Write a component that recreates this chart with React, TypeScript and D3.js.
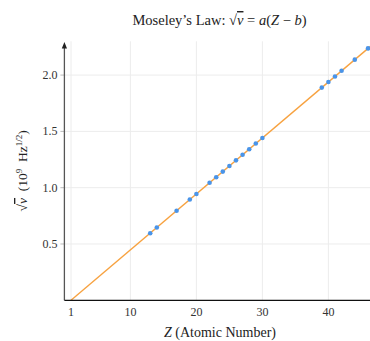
import { useRef, useEffect } from "react";
import * as d3 from "d3";

// Measured K-alpha points (Z, sqrt(nu) in 1e9 Hz^1/2)
const atomicNumbers = [13, 14, 17, 19, 20, 22, 23, 24, 25, 26, 27, 28, 29, 30, 39, 40, 41, 42, 44, 46];
const sqrtFreq = [0.596, 0.646, 0.795, 0.895, 0.944, 1.044, 1.093, 1.143, 1.193, 1.243, 1.292, 1.342, 1.392, 1.441, 1.889, 1.938, 1.988, 2.038, 2.137, 2.237];

// Fit line endpoints
const fitZ = [1, 47];
const fitValues = [0, 2.286];

const xTicks = [1, 10, 20, 30, 40];
const yTicks = [0.5, 1.0, 1.5, 2.0];

const WIDTH = 370;
const HEIGHT = 341;
const FONT = "'Liberation Serif', 'DejaVu Serif', serif";

export default function App() {
  const svgRef = useRef<SVGSVGElement>(null);

  useEffect(() => {
    if (!svgRef.current) return;
    const svg = d3.select(svgRef.current);
    svg.selectAll("*").remove();

    const x = d3.scaleLinear().domain([0, 47]).range([64.4, 374.6]);
    const y = d3.scaleLinear().domain([0, 2.3]).range([300.3, 41.3]);

    const defs = svg.append("defs");
    defs
      .append("clipPath")
      .attr("id", "plot-clip")
      .append("rect")
      .attr("x", x(0))
      .attr("y", y(2.3))
      .attr("width", x(47) - x(0))
      .attr("height", y(0) - y(2.3));
    defs
      .append("marker")
      .attr("id", "arrow")
      .attr("viewBox", "0 0 10 10")
      .attr("refX", 5)
      .attr("refY", 5)
      .attr("markerWidth", 5)
      .attr("markerHeight", 5)
      .attr("orient", "auto")
      .append("path")
      .attr("d", "M0,1 L10,5 L0,9 Z")
      .attr("fill", "#222");

    // Grid
    svg
      .append("g")
      .selectAll("line")
      .data(xTicks)
      .enter()
      .append("line")
      .attr("x1", (d) => x(d))
      .attr("x2", (d) => x(d))
      .attr("y1", y(2.3))
      .attr("y2", y(0))
      .attr("stroke", "#ececec")
      .attr("stroke-width", 1);
    svg
      .append("g")
      .selectAll("line")
      .data(yTicks)
      .enter()
      .append("line")
      .attr("x1", x(0))
      .attr("x2", WIDTH)
      .attr("y1", (d) => y(d))
      .attr("y2", (d) => y(d))
      .attr("stroke", "#ececec")
      .attr("stroke-width", 1);

    // Y ticks
    const yt = svg.append("g");
    yt.selectAll("line")
      .data(yTicks)
      .enter()
      .append("line")
      .attr("x1", x(0) - 4)
      .attr("x2", x(0))
      .attr("y1", (d) => y(d))
      .attr("y2", (d) => y(d))
      .attr("stroke", "#bbb");
    yt.selectAll("text")
      .data(yTicks)
      .enter()
      .append("text")
      .attr("x", x(0) - 7)
      .attr("y", (d) => y(d) + 4)
      .attr("text-anchor", "end")
      .attr("font-family", FONT)
      .attr("font-size", 12)
      .attr("fill", "#333")
      .text((d) => d3.format(".1f")(d));

    // X tick labels
    svg
      .append("g")
      .selectAll("text")
      .data(xTicks)
      .enter()
      .append("text")
      .attr("x", (d) => x(d))
      .attr("y", 316)
      .attr("text-anchor", "middle")
      .attr("font-family", FONT)
      .attr("font-size", 12)
      .attr("fill", "#333")
      .text((d) => String(d));

    // Fit line
    const fit = fitZ.map((z, i) => ({ z, v: fitValues[i] }));
    const line = d3
      .line<{ z: number; v: number }>()
      .x((d) => x(d.z))
      .y((d) => y(d.v));
    svg
      .append("path")
      .datum(fit)
      .attr("clip-path", "url(#plot-clip)")
      .attr("fill", "none")
      .attr("stroke", "#f7a240")
      .attr("stroke-width", 1.4)
      .attr("d", line);

    // Points
    svg
      .append("g")
      .selectAll("circle")
      .data(atomicNumbers)
      .enter()
      .append("circle")
      .attr("cx", (d) => x(d))
      .attr("cy", (_d, i) => y(sqrtFreq[i]))
      .attr("r", 2.3)
      .attr("fill", "#4a94e8");

    // Axes
    svg
      .append("line")
      .attr("x1", x(0))
      .attr("x2", x(0))
      .attr("y1", y(0))
      .attr("y2", y(2.3) + 4)
      .attr("stroke", "#555")
      .attr("stroke-width", 1.3)
      .attr("marker-end", "url(#arrow)");
    svg
      .append("line")
      .attr("x1", x(0))
      .attr("x2", WIDTH)
      .attr("y1", y(0))
      .attr("y2", y(0))
      .attr("stroke", "#111")
      .attr("stroke-width", 1.3);

    // Title
    const title = svg
      .append("text")
      .attr("x", 219.5)
      .attr("y", 25)
      .attr("text-anchor", "middle")
      .attr("font-family", FONT)
      .attr("font-size", 14.5)
      .attr("fill", "#222");
    title.append("tspan").text("Moseley’s Law: √");
    title
      .append("tspan")
      .attr("font-style", "italic")
      .style("text-decoration", "overline")
      .text("ν");
    title.append("tspan").text(" = ");
    title.append("tspan").attr("font-style", "italic").text("a");
    title.append("tspan").text("(");
    title.append("tspan").attr("font-style", "italic").text("Z");
    title.append("tspan").text(" − ");
    title.append("tspan").attr("font-style", "italic").text("b");
    title.append("tspan").text(")");

    // X label
    const xl = svg
      .append("text")
      .attr("x", 220)
      .attr("y", 337)
      .attr("text-anchor", "middle")
      .attr("font-family", FONT)
      .attr("font-size", 14)
      .attr("fill", "#222");
    xl.append("tspan").attr("font-style", "italic").text("Z");
    xl.append("tspan").text(" (Atomic Number)");

    // Y label
    const yl = svg
      .append("text")
      .attr("transform", `translate(27,${(y(0) + y(2.3)) / 2}) rotate(-90)`)
      .attr("text-anchor", "middle")
      .attr("font-family", FONT)
      .attr("font-size", 13.5)
      .attr("fill", "#222");
    yl.append("tspan").text("√");
    yl.append("tspan")
      .attr("font-style", "italic")
      .style("text-decoration", "overline")
      .text("ν");
    yl.append("tspan").text("\u00a0\u00a0(10");
    yl.append("tspan").attr("font-size", 9).attr("dy", -5).text("9");
    yl.append("tspan").attr("dy", 5).text("\u00a0\u00a0Hz");
    yl.append("tspan").attr("font-size", 9).attr("dy", -5).text("1/2");
    yl.append("tspan").attr("dy", 5).text(")");
  }, []);

  return (
    <svg
      ref={svgRef}
      width={WIDTH}
      height={HEIGHT}
      style={{ position: "absolute", left: 0, top: 0, background: "#fff" }}
    />
  );
}
